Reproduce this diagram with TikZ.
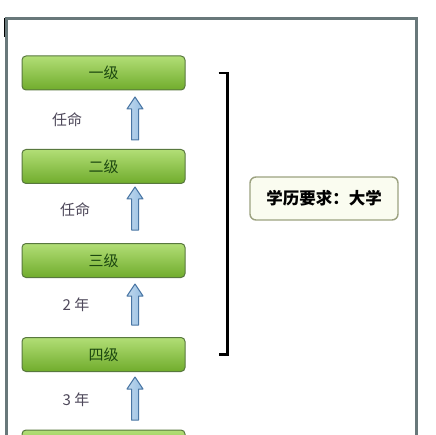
\documentclass[tikz,border=0pt]{standalone}
\usepackage{fontspec}
\setmainfont{Noto Sans CJK SC}
\usetikzlibrary{positioning}
\definecolor{gradetop}{RGB}{178, 222, 118}
\definecolor{gradebot}{RGB}{112, 172, 44}
\definecolor{gradeline}{RGB}{88, 120, 62}
\definecolor{gradetext}{RGB}{28, 72, 16}
\definecolor{stepfill}{RGB}{150, 190, 226}
\definecolor{stepline}{RGB}{74, 118, 164}
\definecolor{steptext}{RGB}{78, 72, 90}
\definecolor{framegray}{RGB}{104, 120, 122}
\definecolor{reqfill}{RGB}{250, 252, 240}
\definecolor{reqline}{RGB}{156, 162, 128}
\tikzset{
  grade/.style={draw=gradeline, line width=1pt, rounded corners=4pt,
    top color=gradetop, bottom color=gradebot, minimum width=163pt,
    minimum height=34pt, inner sep=0pt, text=gradetext, font=\fontsize{15}{15}\selectfont},
  uparrow/.style={draw=stepline, line width=1pt, line join=round,
    left color=stepfill!60!white, right color=stepfill},
  steplabel/.style={text=steptext, font=\fontsize{15}{15}\selectfont},
  bracketline/.style={line width=2.6pt, black},
  reqbox/.style={draw=reqline, line width=1.4pt, fill=reqfill, rounded corners=6pt,
    minimum width=148pt, minimum height=43pt, font=\fontsize{16.5}{16.5}\selectfont\bfseries}
}
\begin{document}
\begin{tikzpicture}[x=1pt, y=-1pt]
  \useasboundingbox (0, 0) rectangle (435, 435);
  \clip (0, 0) rectangle (435, 435);
  \fill[white] (0, 0) rectangle (435, 435);
  % frame
  \draw[framegray, line width=3pt] (6, 445) -- (6, 19) -- (416, 19) -- (416, 445);
  \draw[black, line width=1.4pt] (4.5, 18) -- (4.5, 37);
  % grades
  \node[grade] (g1) at (103.5, 73) {一级};
  \node[grade] (g2) at (103.5, 166.5) {二级};
  \node[grade] (g3) at (103.5, 260.5) {三级};
  \node[grade] (g4) at (103.5, 354.5) {四级};
  \node[grade] (g5) at (103.5, 447) {};
  % promotions
  \foreach \yt/\yb in {97/140, 187/230, 284/325, 377/420}
    \draw[uparrow] (131.5, \yb) -- (131.5, \yt+12) -- (127, \yt+12) -- (135, \yt)
      -- (143, \yt+12) -- (138.5, \yt+12) -- (138.5, \yb) -- cycle;
  \node[steplabel] (l1) at (67, 120) {任命};
  \node[steplabel] (l2) at (75, 210) {任命};
  \node[steplabel] (l3) at (76, 305) {2 年};
  \node[steplabel] (l4) at (76, 400) {3 年};
  % bracket
  \draw[bracketline] ([xshift=33pt]g1.east) -- ++(9, 0) |- ([xshift=33pt]g4.east);
  \node[reqbox] (req) at (324, 198.5) {学历要求：大学};
\end{tikzpicture}
\end{document}
